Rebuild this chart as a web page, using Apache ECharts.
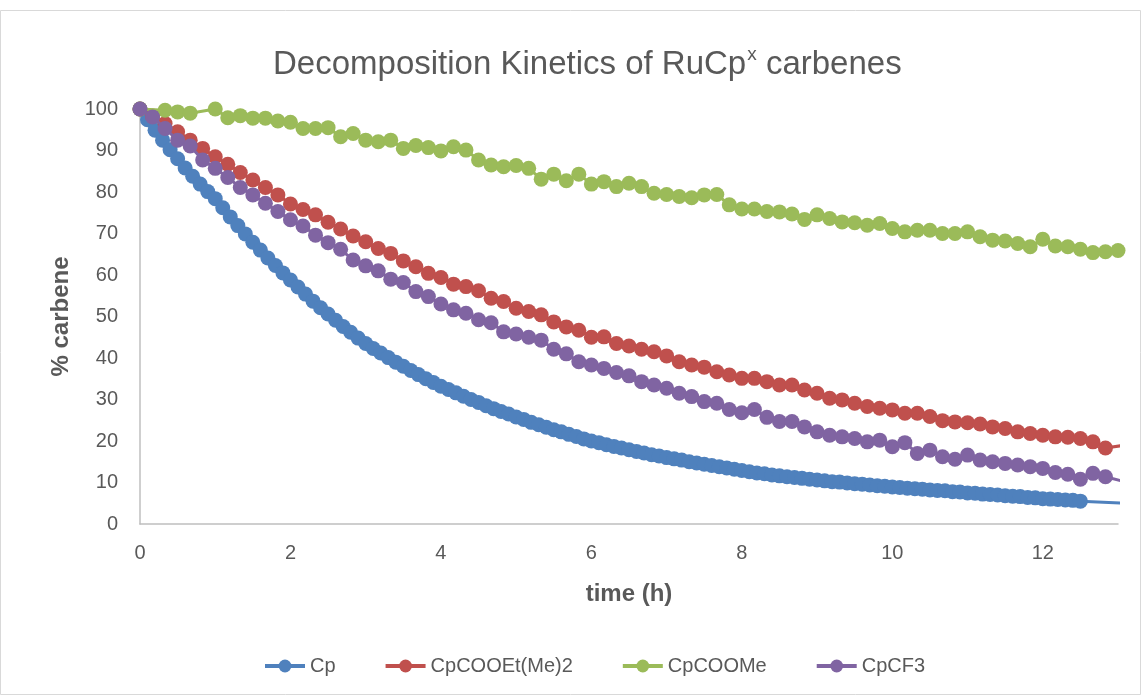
<!DOCTYPE html>
<html>
<head>
<meta charset="utf-8">
<script src="https://cdn.jsdelivr.net/npm/echarts@6/dist/echarts.min.js"></script>
<style>
  html, body { margin: 0; padding: 0; background: #ffffff; }
  #chart { width: 1147px; height: 696px; }
</style>
</head>
<body>
<div id="chart"></div>
<script>
// ---- data ----
const seriesNames = ['Cp', 'CpCOOEt(Me)2', 'CpCOOMe', 'CpCF3'];
const xTicks = [0, 2, 4, 6, 8, 10, 12];
const yTicks = [0, 10, 20, 30, 40, 50, 60, 70, 80, 90, 100];

// sampling times (h) every 10 min
const tStep = [0,0.167,0.333,0.5,0.667,0.833,1,1.167,1.333,1.5,1.667,1.833,2,2.167,2.333,2.5,2.667,2.833,3,3.167,3.333,3.5,3.667,3.833,4,4.167,4.333,4.5,4.667,4.833,5,5.167,5.333,5.5,5.667,5.833,6,6.167,6.333,6.5,6.667,6.833,7,7.167,7.333,7.5,7.667,7.833,8,8.167,8.333,8.5,8.667,8.833,9,9.167,9.333,9.5,9.667,9.833,10,10.167,10.333,10.5,10.667,10.833,11,11.167,11.333,11.5,11.667,11.833,12,12.167,12.333,12.5,12.667,12.833,13,13.167];

const cpCOOEtMe2 = [100,98.3,96.5,94.5,92.5,90.5,88.5,86.7,84.7,82.9,81.1,79.3,77.1,75.8,74.5,72.7,71.1,69.4,68.0,66.4,65.2,63.4,62.0,60.4,59.4,57.8,57.2,56.2,54.4,53.6,52.0,51.2,50.4,48.7,47.5,46.7,45.0,45.1,43.5,42.9,42.1,41.5,40.5,39.1,38.3,37.8,36.7,35.9,35.1,35.1,34.3,33.5,33.5,32.3,31.5,30.3,29.9,29.1,28.3,27.9,27.5,26.7,26.7,25.9,24.9,24.6,24.4,24.1,23.4,23.0,22.2,21.8,21.4,21.0,20.9,20.6,19.8,18.3,null,19.2];

const cpCF3 = [100,98.1,95.3,92.5,91.1,87.7,85.7,83.5,81.1,79.3,77.3,75.3,73.3,71.8,69.6,67.8,66.2,63.6,62.2,61.0,59.0,58.2,56.0,54.8,53.0,51.6,50.8,49.2,48.5,46.3,45.8,45.0,44.3,42.1,41.0,39.1,38.3,37.5,36.5,35.7,34.3,33.5,32.7,31.5,30.7,29.5,29.1,27.6,26.8,27.6,25.7,24.7,24.7,23.4,22.2,21.4,21.0,20.6,19.8,20.2,18.6,19.6,17.0,17.8,16.2,15.6,16.6,15.4,15.0,14.6,14.2,13.8,13.4,12.4,12.0,10.8,12.2,11.4,null,9.8];

const cpCOOMe = [100,null,99.7,99.3,99.0,null,100,97.9,98.4,97.8,97.8,97.1,96.8,95.3,95.3,95.5,93.3,94.1,92.5,92.1,92.5,90.5,91.2,90.7,89.9,90.9,90.1,87.7,86.5,86.1,86.4,85.7,83.1,84.3,82.7,84.3,81.9,82.5,81.3,82.1,81.3,79.7,79.4,78.9,78.6,79.3,79.4,76.9,75.9,75.9,75.3,75.2,74.7,73.4,74.5,73.6,72.8,72.6,72.0,72.4,71.2,70.4,70.8,70.8,70.0,70.0,70.4,69.2,68.4,68.2,67.6,66.8,68.6,67.0,66.8,66.2,65.4,65.6,65.9,null];

// Cp sampled densely
const tCp = [0,0.1,0.2,0.3,0.4,0.5,0.6,0.7,0.8,0.9,1,1.1,1.2,1.3,1.4,1.5,1.6,1.7,1.8,1.9,2,2.1,2.2,2.3,2.4,2.5,2.6,2.7,2.8,2.9,3,3.1,3.2,3.3,3.4,3.5,3.6,3.7,3.8,3.9,4,4.1,4.2,4.3,4.4,4.5,4.6,4.7,4.8,4.9,5,5.1,5.2,5.3,5.4,5.5,5.6,5.7,5.8,5.9,6,6.1,6.2,6.3,6.4,6.5,6.6,6.7,6.8,6.9,7,7.1,7.2,7.3,7.4,7.5,7.6,7.7,7.8,7.9,8,8.1,8.2,8.3,8.4,8.5,8.6,8.7,8.8,8.9,9,9.1,9.2,9.3,9.4,9.5,9.6,9.7,9.8,9.9,10,10.1,10.2,10.3,10.4,10.5,10.6,10.7,10.8,10.9,11,11.1,11.2,11.3,11.4,11.5,11.6,11.7,11.8,11.9,12,12.1,12.2,12.3,12.4,12.5,13.5];
const cp = [100,97.4,94.9,92.5,90.2,88.0,85.8,83.8,81.9,80.1,78.4,76.2,74.0,71.9,69.9,67.9,66.0,64.1,62.3,60.5,58.8,57.1,55.4,53.7,52.1,50.6,49.1,47.6,46.2,44.8,43.5,42.3,41.2,40.1,39.0,38.0,37.0,36.0,35.0,34.1,33.2,32.4,31.6,30.8,30.0,29.3,28.5,27.8,27.1,26.5,25.8,25.2,24.5,23.9,23.3,22.7,22.2,21.6,21.1,20.5,20.0,19.6,19.1,18.7,18.3,17.9,17.5,17.1,16.7,16.4,16.0,15.7,15.4,15.0,14.7,14.4,14.1,13.8,13.5,13.2,12.9,12.6,12.3,12.1,11.8,11.6,11.4,11.2,11.0,10.8,10.6,10.4,10.2,10.1,9.9,9.7,9.6,9.4,9.2,9.1,8.9,8.8,8.6,8.5,8.4,8.2,8.1,8.0,7.8,7.7,7.5,7.4,7.2,7.1,7.0,6.8,6.7,6.6,6.4,6.3,6.1,6.0,5.9,5.8,5.7,5.5,4.7];

const colors = ['#4f81bd', '#c0504d', '#9bbb59', '#8064a2'];

// ---- build ----
function pairs(ts, vs) {
  const out = [];
  for (let i = 0; i < ts.length; i++) {
    if (vs[i] !== null && vs[i] !== undefined) out.push([ts[i], vs[i]]);
  }
  return out;
}
const dataSets = [pairs(tCp, cp), pairs(tStep, cpCOOEtMe2), pairs(tStep, cpCOOMe), pairs(tStep, cpCF3)];

const FONT = '"Liberation Sans", Arial, sans-serif';
const chart = echarts.init(document.getElementById('chart'), null, { renderer: 'canvas' });

const option = {
  animation: false,
  backgroundColor: '#ffffff',
  color: colors,
  title: {
    text: '{a|Decomposition Kinetics of RuCp}{s|x}{a| carbenes}',
    left: 268,
    top: 38,
    textStyle: {
      fontWeight: 'normal',
      rich: {
        a: { fontFamily: FONT, fontSize: 33, fontWeight: 'normal', color: '#595959', lineHeight: 38, verticalAlign: 'bottom' },
        s: { fontFamily: FONT, fontSize: 19, fontWeight: 'normal', color: '#595959', lineHeight: 38, verticalAlign: 'top', padding: [2, 0, 0, 1] }
      }
    }
  },
  legend: {
    data: seriesNames,
    left: 258,
    top: 651,
    itemWidth: 40,
    itemHeight: 16,
    itemGap: 48,
    lineStyle: { width: 4 },
    textStyle: { fontFamily: FONT, fontSize: 20, color: '#595959' }
  },
  grid: { left: 140, top: 109, width: 978, height: 415, containLabel: false },
  xAxis: {
    type: 'value',
    min: 0,
    max: 13,
    interval: 2,
    name: 'time (h)',
    nameLocation: 'middle',
    nameGap: 58,
    nameTextStyle: { fontFamily: FONT, fontSize: 24, fontWeight: 'bold', color: '#595959' },
    axisLine: { show: true, lineStyle: { color: '#bfbfbf', width: 1.5 } },
    axisTick: { show: false },
    splitLine: { show: false },
    axisLabel: {
      fontFamily: FONT, fontSize: 20, color: '#595959', margin: 19,
      showMaxLabel: false,
      formatter: function (v) { return xTicks.indexOf(v) >= 0 ? String(v) : ''; }
    }
  },
  yAxis: {
    type: 'value',
    min: 0,
    max: 100,
    interval: 10,
    name: '% carbene',
    nameLocation: 'middle',
    nameRotate: 90,
    nameGap: 66,
    nameTextStyle: { fontFamily: FONT, fontSize: 24, fontWeight: 'bold', color: '#595959' },
    axisLine: { show: true, lineStyle: { color: '#bfbfbf', width: 1.5 } },
    axisTick: { show: false },
    splitLine: { show: false },
    axisLabel: {
      fontFamily: FONT, fontSize: 20, color: '#595959', margin: 22,
      formatter: function (v) { return yTicks.indexOf(v) >= 0 ? String(v) : ''; }
    }
  },
  graphic: [{
    type: 'rect',
    shape: { x: 0.5, y: 10.5, width: 1140, height: 684 },
    style: { fill: 'none', stroke: '#d9d9d9', lineWidth: 1 },
    silent: true, z: -1
  }],
  series: seriesNames.map(function (name, i) {
    return {
      name: name,
      type: 'line',
      data: dataSets[i],
      symbol: 'circle',
      symbolSize: 15,
      showSymbol: true,
      clip: true,
      lineStyle: { width: 3, color: colors[i] },
      itemStyle: { color: colors[i] },
      emphasis: { disabled: true },
      z: 2 + i
    };
  })
};
chart.setOption(option);
</script>
</body>
</html>
